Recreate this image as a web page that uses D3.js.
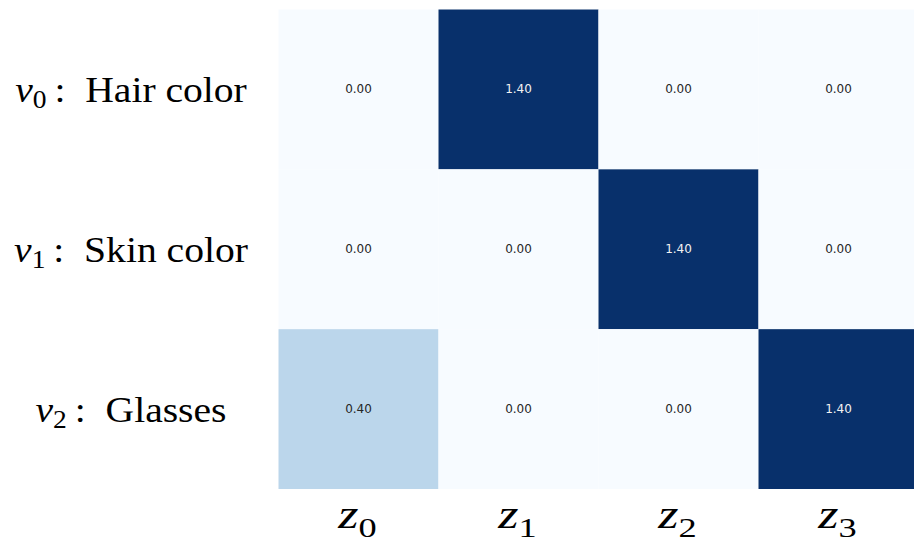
<!DOCTYPE html>
<html>
<head>
<meta charset="utf-8">
<script src="https://cdn.jsdelivr.net/npm/d3@7"></script>
<style>
  html, body { margin: 0; padding: 0; background: #ffffff; }
  svg { display: block; }
  .label { font-family: "Liberation Serif", "DejaVu Serif", "Liberation Sans", sans-serif; }
  .annot { font-family: "DejaVu Sans", sans-serif; }
</style>
</head>
<body>
<svg id="chart" width="914" height="548"></svg>
<script>
// Latent variables (columns) and ground-truth factors (rows)
const latentSymbol = "z";
const latentIndex = ["0", "1", "2", "3"];
const factorSymbol = "v";
const factorIndex = ["0", "1", "2"];
const factorNames = ["Hair color", "Skin color", "Glasses"];

// Importance of each latent for each factor, row by row
const row0 = [0.00, 1.40, 0.00, 0.00];
const row1 = [0.00, 0.00, 1.40, 0.00];
const row2 = [0.40, 0.00, 0.00, 1.40];
const matrix = [row0, row1, row2];

const W = 914, H = 548;
const margin = { left: 278.5, top: 9.5, right: -4.5, bottom: 59 };

const svg = d3.select("#chart");

const x = d3.scaleBand()
  .domain(latentIndex)
  .range([margin.left, W - margin.right])
  .padding(0);
const y = d3.scaleBand()
  .domain(factorIndex)
  .range([margin.top, H - margin.bottom])
  .padding(0);

// Matplotlib-style "Blues" colormap, piecewise linear between its nine stops
const bluesStops = ["#f7fbff", "#deebf7", "#c6dbef", "#9ecae1", "#6baed6",
                    "#4292c6", "#2171b5", "#08519c", "#08306b"];
const vmin = d3.min(matrix.flat()), vmax = d3.max(matrix.flat());
const color = d3.scaleLinear()
  .domain(bluesStops.map((_, i) => vmin + (vmax - vmin) * i / (bluesStops.length - 1)))
  .range(bluesStops)
  .interpolate(d3.interpolateRgb);

const cells = matrix.flatMap((row, r) =>
  row.map((v, c) => ({ r: factorIndex[r], c: latentIndex[c], v })));

const g = svg.append("g");

g.selectAll("rect.cell")
  .data(cells)
  .join("rect")
  .attr("class", "cell")
  .attr("x", d => x(d.c))
  .attr("y", d => y(d.r))
  .attr("width", x.bandwidth())
  .attr("height", y.bandwidth())
  .attr("fill", d => color(d.v));

// Value annotations, light text on dark cells
g.selectAll("text.annot")
  .data(cells)
  .join("text")
  .attr("class", "annot")
  .attr("x", d => x(d.c) + x.bandwidth() / 2)
  .attr("y", d => y(d.r) + y.bandwidth() / 2)
  .attr("text-anchor", "middle")
  .attr("dominant-baseline", "central")
  .attr("font-size", 12)
  .attr("fill", d => (d.v - vmin) / (vmax - vmin) > 0.5 ? "#f2f2f2" : "#262626")
  .text(d => d3.format(".2f")(d.v));

// Column labels: z_i
const colLab = svg.append("g")
  .selectAll("g")
  .data(latentIndex)
  .join("g")
  .attr("transform", d => `translate(${x(d) + x.bandwidth() / 2 - 1},528) scale(1.3,1)`)
  .append("text")
  .attr("class", "label")
  .attr("text-anchor", "middle")
  .attr("fill", "#000");
colLab.append("tspan")
  .attr("font-style", "italic")
  .attr("font-size", 40)
  .text(latentSymbol);
colLab.append("tspan")
  .attr("font-size", 28)
  .attr("dy", 9)
  .text(d => d);

// Row labels: v_i : name
const labelCenter = 131;
const rowLab = svg.append("g")
  .selectAll("g")
  .data(factorIndex)
  .join("g")
  .attr("transform", d => `translate(${labelCenter},${y(d) + y.bandwidth() / 2 + 12.5}) scale(1.1,1)`);
const rowText = rowLab.append("text")
  .attr("class", "label")
  .attr("text-anchor", "middle")
  .attr("font-size", 36)
  .attr("fill", "#000");
rowText.append("tspan")
  .attr("font-style", "italic")
  .text(factorSymbol);
rowText.append("tspan")
  .attr("font-size", 25)
  .attr("dy", 6)
  .text(d => d);
rowText.append("tspan")
  .attr("dy", -6)
  .text((d, i) => "\u2009:\u2002" + factorNames[i]);
</script>
</body>
</html>
